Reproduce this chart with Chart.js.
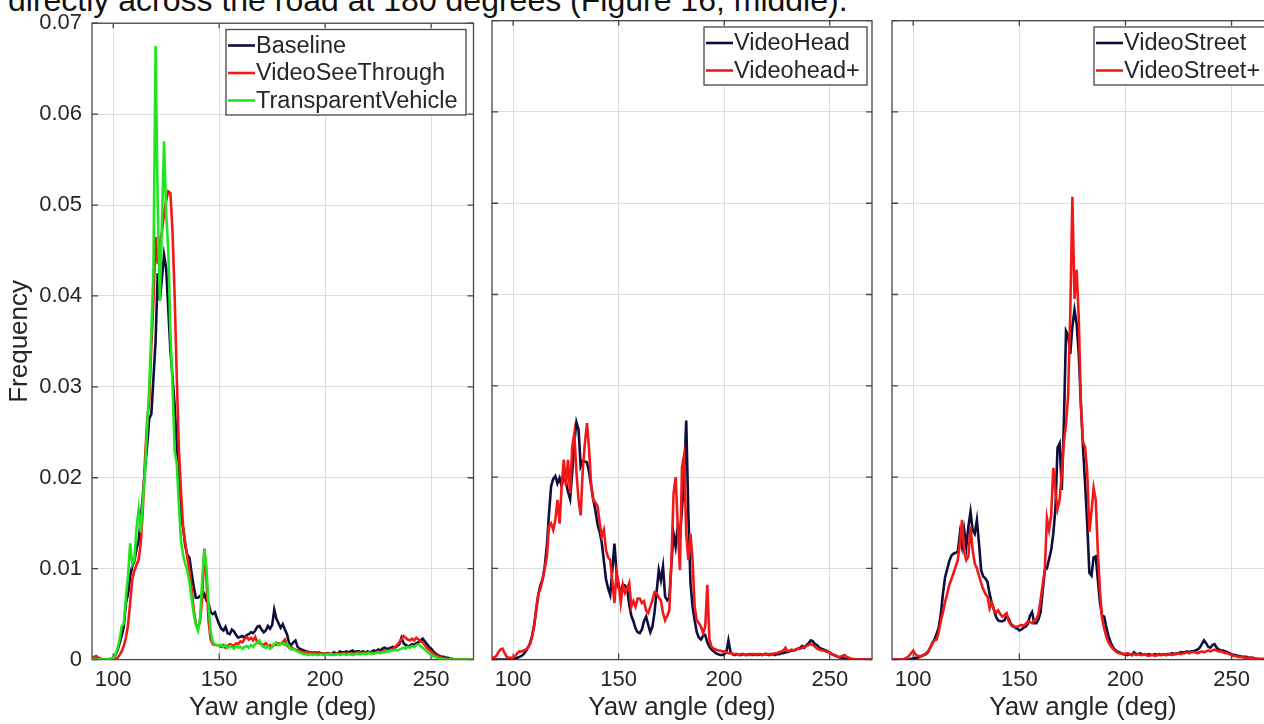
<!DOCTYPE html>
<html><head><meta charset="utf-8">
<script src="https://cdn.jsdelivr.net/npm/chart.js@4.4.1/dist/chart.umd.min.js"></script>
<style>
html,body{margin:0;padding:0;width:1264px;height:724px;overflow:hidden;background:#fff;}
#wrap{position:relative;width:1264px;height:724px;overflow:hidden;}
canvas{position:absolute;top:0;}
#caption{position:absolute;left:8px;top:-16px;font-family:"Liberation Sans",Arial,sans-serif;font-size:32px;line-height:32px;color:#111;white-space:nowrap;}
</style></head><body>
<div id="wrap">
<div id="caption">directly across the road at 180 degrees (Figure 16, middle).</div>
<canvas id="c1" width="488" height="724" style="left:0px"></canvas>
<canvas id="c2" width="400" height="724" style="left:480px"></canvas>
<canvas id="c3" width="400" height="724" style="left:880px"></canvas>
</div>
<script>
// ---- axis ticks ----
const xTicks = [100, 150, 200, 250];
const yTicks = [0, 0.01, 0.02, 0.03, 0.04, 0.05, 0.06, 0.07];
const yTickLabels = ['0', '0.01', '0.02', '0.03', '0.04', '0.05', '0.06', '0.07'];

// ---- histogram bins (yaw angle, deg) ----
const angles = [
 90,91,92,93,94,95,96,97,98,99,
 100,101,102,103,104,105,106,107,108,109,
 110,111,112,113,114,115,116,117,118,119,
 120,121,122,123,124,125,126,127,128,129,
 130,131,132,133,134,135,136,137,138,139,
 140,141,142,143,144,145,146,147,148,149,
 150,151,152,153,154,155,156,157,158,159,
 160,161,162,163,164,165,166,167,168,169,
 170,171,172,173,174,175,176,177,178,179,
 180,181,182,183,184,185,186,187,188,189,
 190,191,192,193,194,195,196,197,198,199,
 200,201,202,203,204,205,206,207,208,209,
 210,211,212,213,214,215,216,217,218,219,
 220,221,222,223,224,225,226,227,228,229,
 230,231,232,233,234,235,236,237,238,239,
 240,241,242,243,244,245,246,247,248,249,
 250,251,252,253,254,255,256,257,258,259,
 260,261,262,263,264,265,266,267,268,269,
 270];

// ---- panel 1 ----
const baseline = [
 0,0,0.0001,0.0001,0.0001,0,0,0,0,0.0001,
 0.0002,0.0005,0.001,0.0018,0.0026,0.0036,0.0062,0.0072,0.0092,0.0103,
 0.0108,0.0122,0.013,0.0155,0.018,0.021,0.0235,0.0265,0.027,0.031,
 0.035,0.0425,0.0395,0.042,0.0445,0.043,0.0385,0.034,0.031,0.028,
 0.0235,0.019,0.0155,0.0145,0.0125,0.0115,0.0112,0.0095,0.008,0.0068,
 0.0068,0.007,0.0068,0.0072,0.0065,0.0062,0.0052,0.005,0.0052,0.0045,
 0.0039,0.0034,0.0032,0.0036,0.0029,0.0028,0.0033,0.0031,0.0027,0.0024,
 0.0025,0.0026,0.0024,0.0027,0.0028,0.003,0.0029,0.0032,0.0036,0.0037,
 0.0033,0.003,0.0032,0.0037,0.0034,0.0038,0.0055,0.0045,0.004,0.0035,
 0.0039,0.0033,0.0028,0.0018,0.0016,0.0019,0.0021,0.0014,0.0012,0.0011,
 0.001,0.0009,0.0008,0.0008,0.0007,0.0008,0.0007,0.0008,0.0007,0.0006,
 0.0006,0.0007,0.0006,0.0006,0.0008,0.0007,0.0007,0.0009,0.0008,0.0008,
 0.0009,0.0008,0.0009,0.001,0.0008,0.0009,0.0009,0.0008,0.0009,0.0008,
 0.0009,0.0008,0.0009,0.001,0.0009,0.0011,0.001,0.0012,0.0013,0.0012,
 0.0012,0.0013,0.0014,0.0013,0.0015,0.0017,0.0024,0.0018,0.0016,0.0015,
 0.0015,0.0017,0.0016,0.0018,0.0019,0.0021,0.0023,0.002,0.0017,0.0014,
 0.0012,0.0009,0.0007,0.0005,0.0004,0.0003,0.0003,0.0002,0.0002,0.0001,
 0.0001,0,0,0,0,0,0,0,0,0,
 0];

const videoSeeThrough = [
 0.0001,0.0003,0.0004,0.0002,0.0001,0,0,0,0,0,
 0,0.0001,0.0002,0.0005,0.0009,0.0015,0.0024,0.0038,0.0062,0.0088,
 0.0098,0.0104,0.011,0.0128,0.0165,0.022,0.0262,0.0285,0.0345,0.0395,
 0.0465,0.0435,0.046,0.047,0.049,0.0505,0.0515,0.0513,0.047,0.04,
 0.031,0.0232,0.0185,0.0145,0.0128,0.0112,0.0098,0.0078,0.0055,0.004,
 0.0034,0.0042,0.0068,0.0122,0.0088,0.0042,0.0022,0.0017,0.0016,0.0016,
 0.0015,0.0014,0.0016,0.0013,0.0015,0.0017,0.0016,0.0015,0.0018,0.0017,
 0.002,0.0019,0.0023,0.0025,0.0022,0.0024,0.0021,0.0025,0.0019,0.0018,
 0.0017,0.0016,0.0018,0.0015,0.0016,0.0014,0.0017,0.0016,0.0018,0.0017,
 0.0019,0.0022,0.0016,0.0013,0.0014,0.0012,0.0011,0.001,0.0009,0.0009,
 0.0008,0.0008,0.0009,0.0007,0.0008,0.0007,0.0006,0.0007,0.0006,0.0007,
 0.0006,0.0006,0.0007,0.0005,0.0006,0.0006,0.0007,0.0006,0.0006,0.0007,
 0.0006,0.0007,0.0006,0.0007,0.0006,0.0007,0.0008,0.0007,0.0007,0.0008,
 0.0007,0.0008,0.0008,0.0007,0.0008,0.0009,0.0008,0.0009,0.0009,0.001,
 0.001,0.0011,0.0012,0.0014,0.0016,0.0019,0.0022,0.0026,0.0024,0.0022,
 0.0021,0.0023,0.0021,0.0024,0.0022,0.002,0.0019,0.0016,0.0013,0.0011,
 0.0009,0.0007,0.0005,0.0004,0.0003,0.0002,0.0002,0.0001,0.0001,0.0001,
 0,0,0,0,0,0,0,0,0,0,
 0];

const transparentVehicle = [
 0,0,0,0,0,0,0,0,0.0001,0.0001,
 0.0002,0.0005,0.0012,0.0022,0.0036,0.004,0.0068,0.0092,0.0128,0.0105,
 0.011,0.0145,0.0165,0.014,0.0175,0.0205,0.0255,0.03,0.036,0.043,
 0.0675,0.05,0.0395,0.048,0.057,0.049,0.045,0.036,0.03,0.023,
 0.0215,0.017,0.013,0.0115,0.0105,0.0098,0.0085,0.0068,0.005,0.0038,
 0.0032,0.0045,0.0088,0.0121,0.0102,0.006,0.003,0.0019,0.0017,0.0016,
 0.0015,0.0016,0.0014,0.0016,0.0013,0.0015,0.0014,0.0012,0.0015,0.0013,
 0.0014,0.0012,0.0014,0.0015,0.0013,0.0016,0.0014,0.0017,0.0019,0.0021,
 0.0016,0.0014,0.0013,0.0015,0.0012,0.0014,0.0017,0.0019,0.0016,0.0017,
 0.0018,0.0016,0.0018,0.0014,0.0011,0.0012,0.001,0.0009,0.0008,0.0007,
 0.0006,0.0006,0.0005,0.0006,0.0005,0.0006,0.0005,0.0005,0.0006,0.0005,
 0.0005,0.0006,0.0005,0.0006,0.0005,0.0005,0.0006,0.0005,0.0006,0.0006,
 0.0005,0.0006,0.0006,0.0005,0.0006,0.0007,0.0006,0.0006,0.0007,0.0006,
 0.0007,0.0007,0.0006,0.0007,0.0007,0.0008,0.0007,0.0008,0.0008,0.0009,
 0.0009,0.001,0.001,0.0011,0.001,0.0011,0.0012,0.0013,0.0012,0.0014,
 0.0013,0.0015,0.0014,0.0016,0.0017,0.0015,0.0013,0.0011,0.0009,0.0007,
 0.0005,0.0004,0.0003,0.0002,0.0001,0.0001,0,0,0,0,
 0,0,0,0,0,0,0,0,0,0,
 0];

// ---- panel 2 ----
const videoHead = [
 0,0,0,0,0,0,0,0,0,0,
 0,0.0001,0.0002,0.0003,0.0004,0.0006,0.0009,0.0013,0.0018,0.0026,
 0.0038,0.0055,0.0072,0.0082,0.0088,0.0102,0.0125,0.016,0.019,0.0198,
 0.0201,0.0193,0.0199,0.019,0.0202,0.0195,0.0184,0.0176,0.0205,0.0238,
 0.026,0.0252,0.0212,0.0218,0.0217,0.0216,0.0205,0.019,0.0175,0.0163,
 0.0148,0.014,0.0128,0.0108,0.0088,0.0078,0.0071,0.0098,0.0127,0.0095,
 0.0078,0.0076,0.0082,0.0081,0.0078,0.006,0.0048,0.0042,0.0034,0.003,
 0.0029,0.0033,0.0042,0.0047,0.0038,0.003,0.0036,0.0052,0.0075,0.0098,
 0.0087,0.0102,0.0069,0.0065,0.0068,0.0105,0.0138,0.0124,0.0146,0.0135,
 0.0165,0.02,0.0262,0.016,0.0085,0.0058,0.0043,0.003,0.0024,0.0022,
 0.0026,0.0027,0.0019,0.0014,0.0011,0.0009,0.0007,0.0006,0.0005,0.0005,
 0.0006,0.0008,0.0021,0.0008,0.0006,0.0005,0.0006,0.0005,0.0005,0.0006,
 0.0005,0.0005,0.0006,0.0005,0.0005,0.0006,0.0005,0.0006,0.0005,0.0006,
 0.0006,0.0005,0.0006,0.0006,0.0005,0.0006,0.0006,0.0007,0.0007,0.0008,
 0.0008,0.0009,0.001,0.001,0.0011,0.0012,0.0013,0.0015,0.0013,0.0016,
 0.0018,0.0021,0.002,0.0017,0.0016,0.0013,0.0012,0.0011,0.001,0.0009,
 0.0008,0.0006,0.0005,0.0004,0.0003,0.0002,0.0002,0.0001,0.0001,0,
 0,0,0,0,0,0,0,0,0,0,
 0];

const videoHeadPlus = [
 0.0003,0.0002,0.0004,0.0008,0.0011,0.0012,0.0007,0.0003,0.0002,0.0002,
 0.0002,0.0004,0.0007,0.0009,0.0009,0.001,0.0011,0.0013,0.0017,0.0025,
 0.0038,0.0058,0.0072,0.0078,0.0088,0.0101,0.0113,0.0146,0.0149,0.0142,
 0.0153,0.0175,0.0149,0.019,0.0219,0.019,0.0219,0.0182,0.0233,0.0248,
 0.0205,0.0175,0.0158,0.0208,0.0237,0.0259,0.023,0.019,0.0175,0.0172,
 0.0168,0.015,0.0135,0.0142,0.012,0.0112,0.0109,0.0087,0.0062,0.0095,
 0.0084,0.0062,0.0082,0.0073,0.0078,0.0084,0.0058,0.0064,0.0058,0.0067,
 0.0067,0.0062,0.0064,0.0054,0.0051,0.0058,0.0065,0.0074,0.0073,0.0068,
 0.0065,0.0051,0.0043,0.0048,0.0054,0.0109,0.0182,0.02,0.0146,0.0098,
 0.0211,0.0224,0.0138,0.0109,0.0138,0.0109,0.0058,0.0043,0.004,0.0036,
 0.0029,0.0036,0.0082,0.0022,0.0014,0.0012,0.0011,0.001,0.001,0.0009,
 0.0009,0.0008,0.0007,0.0007,0.0006,0.0006,0.0006,0.0005,0.0006,0.0006,
 0.0005,0.0006,0.0005,0.0006,0.0006,0.0005,0.0006,0.0006,0.0005,0.0006,
 0.0006,0.0006,0.0005,0.0006,0.0007,0.0007,0.0008,0.0009,0.001,0.0013,
 0.0009,0.001,0.0011,0.001,0.0011,0.0012,0.0012,0.0013,0.0014,0.0015,
 0.0016,0.0017,0.0016,0.0014,0.0012,0.0011,0.001,0.001,0.0009,0.0008,
 0.0008,0.0006,0.0005,0.0004,0.0003,0.0003,0.0004,0.0005,0.0003,0.0002,
 0.0001,0.0001,0,0,0,0,0,0,0,0,
 0];

// ---- panel 3 ----
const videoStreet = [
 0,0,0,0,0,0,0,0,0,0.0001,
 0.0001,0.0002,0.0002,0.0003,0.0004,0.0005,0.0006,0.0008,0.0013,0.0018,
 0.0022,0.0028,0.0035,0.005,0.0072,0.009,0.0099,0.0108,0.0114,0.0116,
 0.0117,0.0118,0.0138,0.0124,0.0142,0.0124,0.0146,0.0162,0.0142,0.0138,
 0.0153,0.0127,0.0098,0.0091,0.0089,0.0085,0.0072,0.0062,0.0055,0.0047,
 0.0043,0.0042,0.0042,0.0043,0.0048,0.0045,0.0039,0.0037,0.0035,0.0034,
 0.0032,0.0033,0.0035,0.0036,0.0039,0.0048,0.0052,0.004,0.004,0.0044,
 0.0052,0.0075,0.0098,0.01,0.011,0.012,0.0138,0.0165,0.0232,0.0237,
 0.0186,0.026,0.036,0.0355,0.0335,0.0365,0.0383,0.0368,0.0335,0.028,
 0.0233,0.0192,0.0148,0.0095,0.0092,0.0112,0.0113,0.0088,0.0062,0.0048,
 0.0047,0.0035,0.0026,0.0019,0.0014,0.0011,0.0009,0.0008,0.0007,0.0006,
 0.0006,0.0005,0.0006,0.0005,0.0008,0.0006,0.0006,0.0007,0.0005,0.0006,
 0.0005,0.0006,0.0005,0.0005,0.0006,0.0005,0.0006,0.0005,0.0006,0.0005,
 0.0006,0.0006,0.0007,0.0006,0.0007,0.0007,0.0008,0.0008,0.0008,0.0009,
 0.0008,0.0009,0.0009,0.001,0.0011,0.0013,0.0017,0.0021,0.0018,0.0014,
 0.0013,0.0016,0.0017,0.0013,0.0011,0.001,0.001,0.0009,0.0008,0.0007,
 0.0006,0.0005,0.0005,0.0004,0.0004,0.0003,0.0003,0.0003,0.0002,0.0002,
 0.0002,0.0001,0.0001,0,0,0,0,0,0,0,
 0];

const videoStreetPlus = [
 0,0,0,0,0,0,0.0001,0.0002,0.0004,0.0007,
 0.001,0.0006,0.0004,0.0004,0.0004,0.0005,0.0007,0.0009,0.0013,0.0018,
 0.0021,0.0022,0.003,0.0042,0.0052,0.0063,0.0072,0.0082,0.0088,0.0095,
 0.0102,0.0109,0.0128,0.0153,0.0118,0.0109,0.0113,0.0146,0.012,0.0105,
 0.01,0.0092,0.0084,0.0077,0.0072,0.0069,0.0056,0.0062,0.0055,0.0051,
 0.0054,0.005,0.0047,0.0049,0.0051,0.0042,0.0038,0.0036,0.0036,0.0036,
 0.0037,0.0038,0.0037,0.0039,0.0042,0.0041,0.004,0.0043,0.0044,0.005,
 0.0065,0.0082,0.0098,0.0155,0.0142,0.0158,0.021,0.0185,0.0165,0.0175,
 0.0205,0.0238,0.0258,0.029,0.038,0.0507,0.0395,0.0427,0.0375,0.028,
 0.0238,0.0233,0.0205,0.014,0.0162,0.0188,0.0175,0.0118,0.0075,0.0045,
 0.0034,0.0025,0.0019,0.0015,0.0012,0.001,0.0008,0.0007,0.0007,0.0006,
 0.0006,0.0007,0.0006,0.0005,0.0006,0.0005,0.0006,0.0005,0.0005,0.0006,
 0.0005,0.0004,0.0005,0.0005,0.0004,0.0005,0.0005,0.0005,0.0006,0.0005,
 0.0005,0.0006,0.0005,0.0006,0.0006,0.0007,0.0006,0.0007,0.0007,0.0008,
 0.0007,0.0008,0.0008,0.0008,0.0007,0.0008,0.0009,0.0008,0.0009,0.001,
 0.0009,0.001,0.0011,0.001,0.0009,0.0009,0.0008,0.0007,0.0007,0.0006,
 0.0005,0.0004,0.0004,0.0003,0.0003,0.0003,0.0002,0.0002,0.0002,0.0002,
 0.0002,0.0001,0.0001,0.0001,0.0001,0.0001,0,0,0,0,
 0];

// ---- styling ----
const FONT = '"Liberation Sans", Arial, sans-serif';
const NAVY = '#0e0e3c';
const RED = '#f31818';
const GREEN = '#1fe51f';
const TEXT = '#262626';
const FRAME = '#464646';
const GRID = '#dcdcdc';
const LW = 2.6;

function pts(vals) { return angles.map((a, i) => ({ x: a, y: vals[i] })); }

const framePlugin = {
  id: 'frameBox',
  beforeDatasetsDraw(chart) {
    const { ctx, chartArea: a, scales } = chart;
    ctx.save();
    ctx.strokeStyle = FRAME;
    ctx.lineWidth = 1.3;
    ctx.strokeRect(a.left, a.top, a.right - a.left, a.bottom - a.top);
    ctx.beginPath();
    xTicks.forEach(v => {
      const px = scales.x.getPixelForValue(v);
      ctx.moveTo(px, a.bottom); ctx.lineTo(px, a.bottom - 6);
      ctx.moveTo(px, a.top); ctx.lineTo(px, a.top + 5);
    });
    yTicks.forEach(v => {
      const py = scales.y.getPixelForValue(v);
      ctx.moveTo(a.left, py); ctx.lineTo(a.left + 6, py);
      ctx.moveTo(a.right, py); ctx.lineTo(a.right - 6, py);
    });
    ctx.stroke();
    ctx.restore();
  }
};

const legendPlugin = {
  id: 'boxLegend',
  afterDatasetsDraw(chart, args, o) {
    const { ctx, chartArea: a } = chart;
    const ds = chart.data.datasets;
    const x0 = a.left + o.offsetX, y0 = a.top + o.offsetY;
    const h = ds.length * 27.5 + 3;
    ctx.save();
    ctx.fillStyle = '#fff';
    ctx.fillRect(x0, y0, o.width, h);
    ctx.strokeStyle = FRAME;
    ctx.lineWidth = 1.3;
    ctx.strokeRect(x0, y0, o.width, h);
    ctx.font = '23.5px ' + FONT;
    ctx.textBaseline = 'middle';
    ctx.textAlign = 'left';
    ds.forEach((d, i) => {
      const cy = y0 + 16 + i * 27.5;
      ctx.strokeStyle = d.borderColor;
      ctx.lineWidth = LW;
      ctx.beginPath(); ctx.moveTo(x0 + 2, cy); ctx.lineTo(x0 + 29, cy); ctx.stroke();
      ctx.fillStyle = TEXT;
      ctx.fillText(d.label, x0 + 30, cy + 1);
    });
    ctx.restore();
  }
};

function makeChart(id, series, cfg) {
  const datasets = series.map((s, i) => ({
    label: s.label, data: pts(s.values), borderColor: s.color, backgroundColor: s.color,
    borderWidth: LW, pointRadius: 0, tension: 0, fill: false, order: series.length - i
  }));
  return new Chart(document.getElementById(id), {
    type: 'line',
    data: { datasets },
    options: {
      responsive: false, animation: false, events: [],
      layout: { padding: { top: 20.7, right: cfg.padRight, left: 0, bottom: 0 } },
      plugins: {
        legend: { display: false }, tooltip: { enabled: false },
        boxLegend: { offsetX: cfg.legX, offsetY: 6.3, width: cfg.legW }
      },
      scales: {
        x: {
          type: 'linear', min: 90, max: 270,
          afterBuildTicks: s => { s.ticks = xTicks.map(v => ({ value: v })); },
          afterFit: s => { s.height = 64.4; },
          grid: { color: GRID, lineWidth: 1, drawTicks: false },
          border: { display: false },
          ticks: { padding: 7.6, color: TEXT, font: { family: FONT, size: 22 }, maxRotation: 0, autoSkip: false,
                   callback: v => String(v) },
          title: { display: true, text: 'Yaw angle (deg)', color: TEXT, font: { family: FONT, size: 26 },
                   padding: { top: 0, bottom: 1 } }
        },
        y: {
          type: 'linear', min: 0, max: 0.07,
          afterBuildTicks: s => { s.ticks = yTicks.map(v => ({ value: v })); },
          afterFit: s => { s.width = cfg.yWidth; },
          grid: { color: GRID, lineWidth: 1, drawTicks: false },
          border: { display: false },
          ticks: { display: cfg.showY, padding: 10, color: TEXT, font: { family: FONT, size: 22 },
                   callback: (v, i) => yTickLabels[i] },
          title: { display: cfg.showY, text: 'Frequency', color: TEXT, font: { family: FONT, size: 26 },
                   padding: { top: 4, bottom: 0 } }
        }
      }
    },
    plugins: [framePlugin, legendPlugin]
  });
}

makeChart('c1', [
  { label: 'Baseline', values: baseline, color: NAVY },
  { label: 'VideoSeeThrough', values: videoSeeThrough, color: RED },
  { label: 'TransparentVehicle', values: transparentVehicle, color: GREEN }
], { yWidth: 92, padRight: 14.5, showY: true, legX: 134, legW: 240 });

makeChart('c2', [
  { label: 'VideoHead', values: videoHead, color: NAVY },
  { label: 'Videohead+', values: videoHeadPlus, color: RED }
], { yWidth: 12, padRight: 8, showY: false, legX: 212, legW: 163 });

makeChart('c3', [
  { label: 'VideoStreet', values: videoStreet, color: NAVY },
  { label: 'VideoStreet+', values: videoStreetPlus, color: RED }
], { yWidth: 12, padRight: 6, showY: false, legX: 202, legW: 175 });
</script>
</body></html>
